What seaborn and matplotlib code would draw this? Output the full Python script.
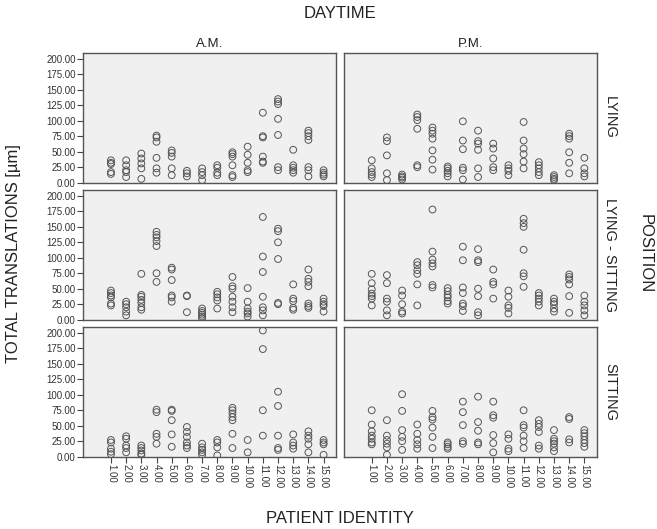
import matplotlib
matplotlib.use("Agg")
import pandas as pd
import matplotlib.pyplot as plt
import seaborn as sns

# values, one inner list per patient (1..15)
patients = list(range(1, 16))
daytimes = ["A.M.", "P.M."]
positions = ["LYING", "LYING - SITTING", "SITTING"]

am_lying = [
    [36, 32, 30, 17, 14], [36, 28, 20, 17, 9], [47, 39, 31, 23, 6],
    [76, 73, 66, 40, 23, 16], [52, 48, 42, 23, 12], [19, 15, 10],
    [23, 17, 12, 4], [28, 24, 16, 12], [49, 46, 42, 28, 12, 9],
    [58, 45, 32, 20, 17], [113, 75, 73, 42, 34, 32],
    [135, 131, 127, 103, 77, 25, 20], [53, 28, 24, 20, 16],
    [84, 80, 75, 69, 25, 20, 10], [20, 16, 13, 10],
]
pm_lying = [
    [36, 23, 17, 13, 9], [73, 67, 44, 15, 4], [13, 10, 8, 5],
    [110, 106, 101, 87, 28, 25], [89, 84, 79, 71, 52, 37, 21],
    [26, 23, 19, 15, 10], [99, 68, 54, 24, 20, 5], [84, 67, 63, 53, 23, 9],
    [63, 55, 39, 25, 20], [28, 23, 19, 12], [98, 68, 55, 46, 34, 23],
    [33, 28, 23, 17, 12], [12, 9, 6, 4], [79, 75, 71, 49, 32, 15],
    [40, 23, 15, 10],
]
am_lying_sitting = [
    [47, 43, 39, 36, 26, 23], [29, 25, 20, 13, 7], [74, 40, 37, 32, 27, 20, 16],
    [142, 137, 133, 127, 119, 75, 61], [84, 81, 64, 39, 36, 29], [39, 38, 12],
    [18, 14, 11, 8, 5, 2], [45, 41, 36, 31, 18], [69, 54, 50, 37, 29, 20, 12],
    [51, 29, 18, 13, 10, 5], [166, 102, 77, 37, 20, 15, 7],
    [147, 143, 125, 98, 27, 25], [57, 34, 30, 19, 16],
    [81, 66, 61, 54, 26, 22, 19], [34, 29, 25, 22, 13],
]
pm_lying_sitting = [
    [74, 59, 49, 42, 38, 34, 23], [72, 59, 34, 29, 15, 7], [47, 39, 25, 13, 10],
    [93, 88, 80, 74, 57, 23], [178, 110, 97, 91, 86, 56, 52],
    [51, 46, 40, 36, 30, 26], [118, 96, 52, 43, 26, 22, 14],
    [114, 96, 93, 50, 38, 12, 7], [81, 61, 57, 34], [47, 37, 23, 19, 10],
    [163, 156, 150, 113, 75, 70, 53], [43, 39, 34, 29, 23],
    [34, 29, 25, 18, 13], [73, 69, 65, 57, 38, 11], [39, 29, 23, 15, 7],
]
am_sitting = [
    [27, 23, 13, 8, 4], [33, 29, 18, 14, 7], [18, 14, 10, 5, 3],
    [76, 72, 37, 32, 21], [76, 74, 59, 36, 16], [48, 40, 32, 23, 18, 14],
    [21, 15, 11, 7, 3], [27, 23, 15, 2], [79, 75, 70, 64, 59, 37, 14],
    [27, 7], [204, 174, 75, 34], [105, 82, 34, 14, 11], [36, 23, 18, 13],
    [41, 34, 29, 20, 7], [27, 23, 20, 3],
]
pm_sitting = [
    [75, 52, 41, 34, 29, 23, 20], [59, 34, 27, 21, 15, 3],
    [101, 74, 43, 32, 25, 11], [52, 37, 27, 20, 13], [74, 64, 60, 47, 32, 14],
    [23, 20, 16, 13], [89, 72, 51, 25, 21], [97, 56, 42, 23, 20],
    [89, 67, 63, 35, 22, 7], [36, 29, 13, 9], [75, 51, 47, 34, 25, 14],
    [59, 53, 48, 40, 18, 13], [43, 29, 25, 21, 15, 9], [64, 61, 28, 23],
    [43, 38, 33, 27, 22, 16],
]

panels = {
    ("A.M.", "LYING"): am_lying,
    ("P.M.", "LYING"): pm_lying,
    ("A.M.", "LYING - SITTING"): am_lying_sitting,
    ("P.M.", "LYING - SITTING"): pm_lying_sitting,
    ("A.M.", "SITTING"): am_sitting,
    ("P.M.", "SITTING"): pm_sitting,
}

rows = []
for (day, pos), values in panels.items():
    for pid, vals in zip(patients, values):
        for v in vals:
            rows.append((day, pos, pid, v))
df = pd.DataFrame(rows, columns=["Daytime", "Position", "Patient", "Translation"])

sns.set_style("ticks")
plt.rcParams["font.family"] = ["Liberation Sans", "DejaVu Sans"]

fig, axes = plt.subplots(3, 2, figsize=(6.57, 5.29), dpi=100, sharex=True, sharey=True)
fig.subplots_adjust(left=0.1268, right=0.9091, top=0.9004, bottom=0.1367,
                    wspace=0.03, hspace=0.055)

for i, pos in enumerate(positions):
    for j, day in enumerate(daytimes):
        ax = axes[i, j]
        sub = df[(df["Position"] == pos) & (df["Daytime"] == day)]
        sns.scatterplot(data=sub, x="Patient", y="Translation", ax=ax,
                        marker="o", s=24, color="none", edgecolor="#555555",
                        linewidth=0.7, legend=False)
        ax.set_facecolor("#f0f0f0")
        for sp in ax.spines.values():
            sp.set_color("#555555")
            sp.set_linewidth(1.0)
        ax.set_xlim(-0.82, 15.85)
        ax.set_ylim(0, 210)
        ax.set_xlabel("")
        ax.set_ylabel("")
        ax.set_yticks(range(0, 201, 25))
        ax.set_yticklabels([f"{v:.2f}" for v in range(0, 201, 25)])
        ax.set_xticks(patients)
        ax.set_xticklabels([f"{p:.2f}" for p in patients], rotation=270)
        ax.tick_params(direction="out", length=4, width=0.8, color="#444444",
                       labelsize=7, labelcolor="#333333", pad=1.5)
        if j == 1:
            ax.tick_params(left=False, labelleft=False)
        else:
            ax.tick_params(labelleft=True)
        if i < 2:
            ax.tick_params(bottom=False, labelbottom=False)
        else:
            ax.tick_params(labelbottom=True)
        if i == 0:
            ax.set_title(day, fontsize=9.5, pad=4, color="#222222")
        if j == 1:
            ax.text(1.05, 0.5, pos, transform=ax.transAxes, rotation=270,
                    ha="center", va="center", fontsize=10.5, color="#222222")

fig.text(0.518, 0.974, "DAYTIME", ha="center", va="center", fontsize=12, color="#222222")
fig.text(0.518, 0.019, "PATIENT IDENTITY", ha="center", va="center", fontsize=12, color="#222222")
fig.text(0.02, 0.52, "TOTAL TRANSLATIONS [µm]", ha="center", va="center",
         rotation=90, fontsize=12, color="#222222")
fig.text(0.982, 0.52, "POSITION", ha="center", va="center", rotation=270,
         fontsize=12, color="#222222")

fig.savefig("out.png", dpi=100)
